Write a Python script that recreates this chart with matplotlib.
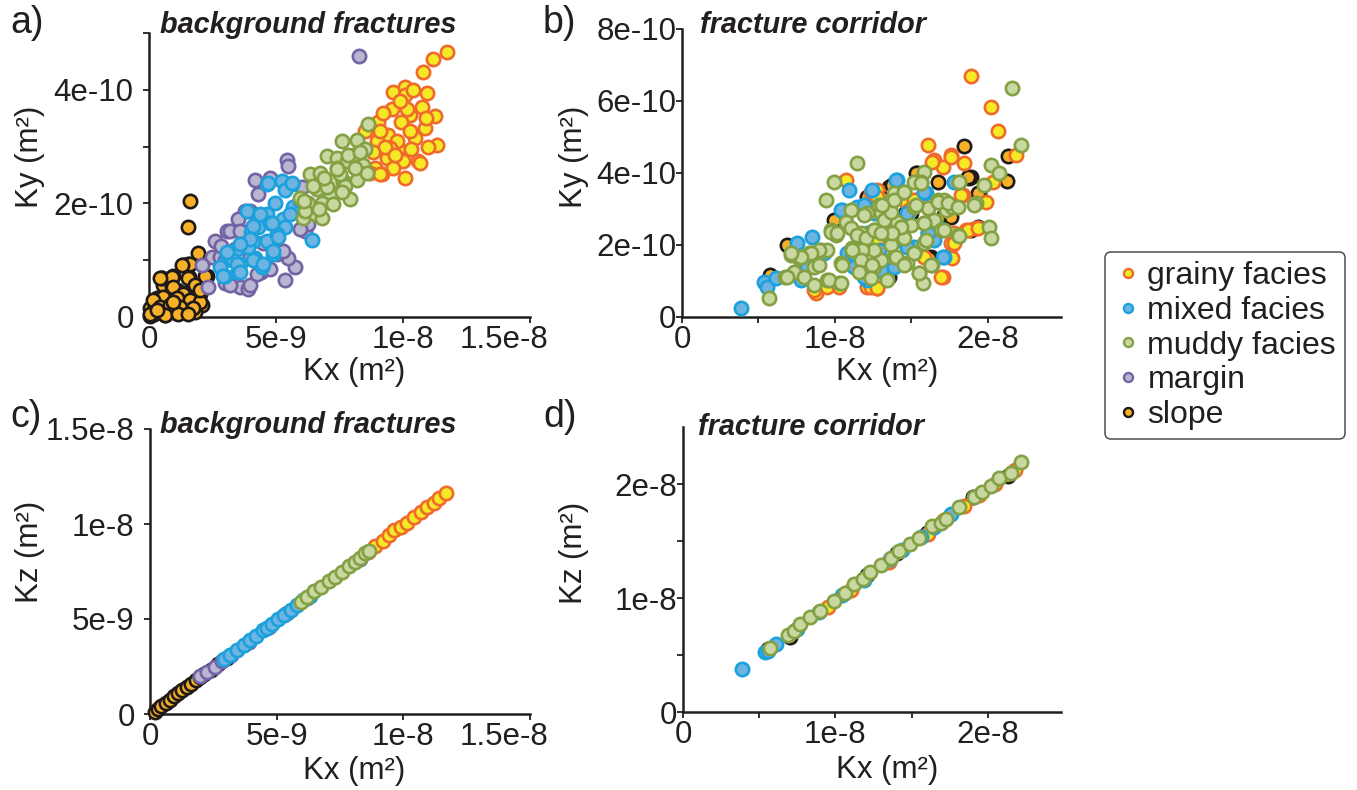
import matplotlib.pyplot as plt
import numpy as np
from matplotlib.lines import Line2D

plt.rcParams['font.family'] = ['Liberation Sans', 'DejaVu Sans']

# --- data (Kx in 1e-9 m2, Ky in 1e-10 m2, Kz in 1e-9 m2) ---
facies = ['grainy facies', 'mixed facies', 'muddy facies', 'margin', 'slope']

# a) background fractures, Ky vs Kx
grainy_a_x = [11.72, 11.19, 10.80, 9.62, 10.08, 10.93, 10.08, 9.55, 10.73, 11.26, 10.28, 9.03, 9.94, 8.50,
              9.42, 10.47, 10.87, 8.96, 9.82, 9.36, 10.01, 10.60, 11.33, 8.90, 9.62, 9.16, 10.08, 8.70,
              10.28, 9.09, 9.75, 9.49, 10.14, 10.67, 9.09, 9.30,
              9.20, 9.90, 10.40, 10.90, 11.00, 9.70, 10.30, 8.80]
grainy_a_y = [4.66, 4.55, 4.31, 3.97, 4.05, 3.94, 3.91, 3.67, 3.70, 3.53, 3.56, 3.44, 3.44, 3.27,
              3.21, 3.15, 3.32, 3.09, 2.95, 2.80, 2.74, 2.74, 3.03, 2.63, 2.63, 2.51, 2.45, 2.54,
              3.27, 3.27, 3.09, 2.97, 3.67, 2.71, 2.51, 3.00,
              3.60, 3.80, 4.00, 3.50, 3.00, 2.85, 2.95, 2.90]
muddy_a_x = [8.63, 7.59, 8.18, 8.50, 6.99, 7.39, 7.78, 8.44, 6.34, 6.73, 7.19, 7.65, 8.18, 6.60, 7.13,
             7.72, 7.91, 5.94, 6.27, 6.80, 7.26, 6.08, 6.54, 6.80, 6.14, 7.39, 8.04, 8.57, 8.11, 7.52, 6.99,
             6.10, 6.45, 6.90, 7.40, 7.85, 8.30, 6.70, 7.60]
muddy_a_y = [3.39, 3.09, 3.12, 2.95, 2.83, 2.80, 2.74, 2.68, 2.51, 2.54, 2.39, 2.39, 2.42, 2.25, 2.16,
             2.31, 2.07, 2.10, 2.01, 2.01, 1.99, 1.75, 1.81, 1.75, 1.87, 2.63, 2.86, 2.54, 2.63, 2.51, 2.28,
             2.05, 2.30, 2.45, 2.60, 2.85, 2.90, 1.90, 2.20]
mixed_a_x = [4.63, 5.22, 5.62, 5.35, 4.96, 3.85, 4.63, 5.29, 4.30, 4.76, 4.00, 5.35, 4.63, 3.45, 3.06,
             3.58, 2.99, 3.52, 4.44, 4.17, 6.40, 5.68, 5.94, 5.03, 4.11, 3.32, 2.80, 3.91, 4.89, 5.55,
             4.70, 5.62, 4.37, 4.83, 4.11, 3.98, 3.58, 3.45, 2.93, 3.58, 4.11, 4.50, 4.89, 5.09, 3.06]
mixed_a_y = [2.35, 2.39, 2.35, 2.23, 2.01, 1.86, 1.81, 1.72, 1.58, 1.66, 1.49, 1.58, 1.34, 1.20, 1.11,
             0.94, 0.73, 0.79, 0.88, 1.03, 1.36, 1.93, 2.04, 1.46, 1.34, 1.00, 0.88, 1.23, 1.11, 1.81,
             2.36, 2.36, 1.81, 1.66, 1.61, 1.37, 1.29, 0.94, 0.73, 0.79, 1.00, 0.94, 1.17, 1.40, 1.14]
margin_a_x = [5.42, 5.49, 4.17, 4.76, 4.30, 3.78, 3.52, 3.06, 2.60, 2.47, 2.07, 2.33, 2.99, 3.58, 3.91,
              5.35, 5.75, 5.49, 5.22, 6.14, 6.27, 6.40, 8.28, 3.19, 3.98, 2.80, 6.01, 5.03, 4.50, 4.00,
              5.80, 2.85, 4.40, 3.40, 3.19, 3.98, 5.29, 5.94, 3.98, 3.58, 2.99, 4.76, 4.24]
margin_a_y = [2.77, 2.66, 2.41, 2.45, 2.16, 1.87, 1.72, 1.52, 1.34, 1.05, 0.91, 0.53, 0.59, 0.53, 0.50,
              0.65, 0.88, 1.03, 1.17, 1.52, 1.64, 1.87, 4.59, 1.52, 1.05, 1.05, 2.28, 1.11, 1.30, 1.55,
              1.95, 1.25, 0.80, 1.20, 0.56, 0.56, 1.17, 1.55, 1.87, 1.52, 1.00, 0.85, 0.76]
slope_a_x = [1.61, 1.52, 1.93, 1.33, 1.57, 0.46, 0.93, 2.27, 0.55, 0.91, 1.81, 1.22, 2.00, 0.30, 0.75,
             1.09, 0.04, 0.43, 0.94, 1.48, 2.00, 0.11, 0.05, 2.10, 0.63, 1.29, 1.74, 0.24, 1.09, 1.55,
             0.50, 0.89, 1.88, 1.42, 1.94, 0.63, 1.15, 0.24, 1.81, 0.20, 0.35,
             1.61, 1.29, 2.20, 0.43, 1.55, 0.96, 1.81, 1.35, 0.56, 0.17, 1.09, 1.61, 2.01, 0.43, 0.83,
             1.22, 1.74, 0.04, 0.63, 1.15, 1.55, 0.30, 0.96, 2.01]
slope_a_y = [2.04, 1.58, 1.12, 0.91, 0.70, 0.68, 0.72, 0.73, 0.56, 0.53, 0.52, 0.38, 0.41, 0.33, 0.30,
             0.24, 0.15, 0.12, 0.09, 0.12, 0.23, 0.07, 0.02, 0.21, 0.03, 0.15, 0.35, 0.21, 0.47, 0.94,
             0.68, 0.70, 0.53, 0.42, 0.27, 0.24, 0.24, 0.07, 0.09, 0.05, 0.10,
             0.94, 0.91, 0.73, 0.68, 0.68, 0.53, 0.56, 0.41, 0.35, 0.30, 0.33, 0.30, 0.27, 0.18, 0.21,
             0.18, 0.15, 0.06, 0.03, 0.06, 0.06, 0.12, 0.27, 0.47]

# b) fracture corridor, Ky vs Kx
grainy_b_x = [18.91, 20.22, 20.66, 16.07, 17.60, 16.50, 17.05, 18.47, 21.86, 20.33, 18.36, 19.89, 18.58,
              19.23, 17.70, 17.70, 17.05, 10.71, 12.79, 15.30, 8.74, 9.51, 10.27, 12.13, 12.79, 15.84,
              17.81, 12.79, 14.75, 17.60,
              12.35, 16.39, 17.60, 18.25, 17.81, 16.94, 18.69, 19.34, 8.63, 12.35, 12.79, 13.11, 14.86,
              15.19, 12.79]
grainy_b_y = [6.69, 5.84, 5.18, 4.78, 4.50, 4.36, 4.18, 4.27, 4.50, 3.76, 3.39, 3.20, 2.42,
              2.46, 2.00, 1.63, 1.12, 3.81, 3.53, 3.25, 0.66, 0.84, 0.84, 0.84, 0.80, 1.68,
              2.32, 2.14, 3.16, 2.05,
              3.48, 4.31, 4.45, 3.39, 2.05, 1.12, 2.42, 2.46, 0.75, 0.84, 0.80, 1.58, 2.97,
              3.25, 3.34]
muddy_b_x = [21.57, 22.18, 20.22, 20.76, 19.78, 19.23, 20.11, 20.22, 18.14, 18.03, 15.84, 15.63, 14.53,
             13.66, 12.89, 15.19, 16.07, 16.72, 17.27, 16.50, 15.84, 14.97, 14.10, 13.22, 12.57, 13.66,
             14.53, 15.19, 15.84, 16.39, 15.52, 15.74, 13.44, 12.57, 11.91, 11.48, 9.94, 9.40, 11.04,
             10.71, 9.72, 10.05, 9.07, 8.30, 7.10, 7.65, 6.77, 7.32, 7.97, 8.63, 9.51, 10.27, 5.68,
             11.15, 11.80, 12.24, 13.00, 13.88, 14.75, 16.94, 17.15, 17.70, 13.88, 13.00, 12.13, 11.69,
             8.63, 10.38, 11.04,
             11.91, 9.72, 10.16, 11.48, 12.02, 12.57, 13.22, 13.66, 13.88, 13.11, 14.53, 15.19, 15.63,
             15.30, 16.72, 17.38, 18.03, 18.14, 19.12, 17.15, 15.84, 14.31, 13.77, 13.00, 12.57, 11.80,
             11.15, 9.51, 8.96, 8.41, 7.76, 7.10, 6.89, 9.61, 10.38, 8.96, 10.49, 11.69, 12.46, 11.58,
             12.35, 13.99, 14.53, 15.19, 15.95, 15.52, 16.28, 18.14]
muddy_b_y = [6.36, 4.78, 4.22, 3.99, 3.67, 3.16, 2.51, 2.19, 3.76, 2.28, 4.04, 3.76, 3.48,
             3.25, 3.11, 3.06, 3.02, 3.25, 2.97, 2.69, 2.60, 2.56, 2.65, 2.69, 2.42, 2.00,
             2.19, 1.77, 2.05, 1.44, 1.21, 0.94, 1.03, 1.40, 1.81, 4.27, 3.76, 3.25, 2.97,
             2.65, 2.42, 2.28, 1.86, 1.77, 1.72, 1.63, 1.12, 1.26, 1.12, 0.89, 1.03, 0.94, 0.54,
             1.91, 2.23, 1.68, 1.58, 1.68, 1.49, 2.42, 3.25, 3.06, 3.44, 2.88, 2.88, 2.32,
             1.40, 1.49, 2.46,
             2.83, 2.37, 2.32, 2.28, 2.19, 2.42, 2.69, 2.93, 3.25, 3.11, 3.48, 3.76, 3.71,
             3.11, 3.20, 3.16, 3.06, 3.76, 3.11, 2.42, 2.60, 2.51, 2.32, 2.32, 1.86, 1.86,
             1.86, 1.86, 1.86, 1.77, 1.68, 1.77, 1.12, 1.03, 0.94, 1.44, 1.44, 1.58, 1.44, 1.26,
             1.08, 1.68, 1.44, 1.77, 2.14, 1.21, 1.44, 2.25]
mixed_b_x = [3.89, 5.35, 5.57, 6.12, 7.54, 8.52, 8.20, 10.49, 10.93, 14.10, 15.95, 17.15, 17.81, 11.48,
             12.57, 12.13, 10.82, 11.25, 12.13, 13.66, 14.31, 15.19, 16.07, 16.50, 14.75, 13.44, 9.94,
             9.29, 13.88, 16.72,
             13.99, 10.38, 11.91, 11.69, 12.89, 14.10, 14.75, 17.05, 15.84, 11.91, 13.00, 11.15, 7.76,
             16.07, 12.46]
mixed_b_y = [0.24, 0.98, 0.84, 1.08, 2.05, 2.23, 1.40, 2.97, 3.53, 3.81, 3.44, 1.68, 3.76, 3.06,
             2.88, 2.32, 1.77, 1.40, 1.03, 1.58, 2.32, 1.95, 2.32, 2.14, 2.88, 2.32, 2.32,
             1.77, 1.40, 2.51,
             3.81, 2.97, 3.11, 2.00, 1.86, 2.14, 1.95, 1.68, 3.48, 1.12, 1.31, 1.77, 1.03,
             2.32, 3.53]
margin_b_x = []
margin_b_y = []
slope_b_x = [18.43, 21.35, 21.27, 18.91, 19.45, 16.72, 15.41, 13.66, 9.94, 6.89, 5.79, 13.44, 16.28,
             18.91, 12.13, 17.60, 18.79, 19.34, 16.17, 14.97, 13.55, 15.30,
             13.77, 18.69, 13.55, 17.15, 14.64, 17.60, 19.34]
slope_b_y = [4.76, 4.47, 3.79, 3.90, 3.44, 3.76, 3.99, 3.62, 2.69, 2.00, 1.17, 1.12, 1.68,
             2.42, 3.34, 2.97, 3.85, 3.44, 1.63, 2.88, 3.62, 3.99,
             3.67, 3.90, 1.12, 2.83, 2.93, 2.79, 2.51]

# c) background fractures, Kz vs Kx
grainy_c_x = [8.62, 8.90, 9.18, 9.45, 9.62, 9.90, 10.15, 10.42, 10.70, 10.95, 11.20, 11.42, 11.70]
grainy_c_y = [8.55, 8.82, 9.12, 9.40, 9.70, 9.85, 10.05, 10.38, 10.62, 10.90, 11.12, 11.35, 11.62]
muddy_c_x = [5.95, 6.20, 6.48, 6.75, 7.05, 7.30, 7.58, 7.85, 8.10, 8.30, 8.50, 8.66]
muddy_c_y = [5.92, 6.15, 6.45, 6.70, 7.00, 7.22, 7.50, 7.80, 8.02, 8.22, 8.45, 8.58]
mixed_c_x = [2.92, 3.15, 3.42, 3.70, 3.95, 4.20, 4.45, 4.62, 4.80, 5.05, 5.30, 5.55, 5.80, 6.05, 6.30]
mixed_c_y = [2.88, 3.12, 3.35, 3.62, 3.90, 4.12, 4.40, 4.55, 4.75, 5.00, 5.22, 5.50, 5.72, 5.98, 6.20]
margin_c_x = [1.97, 2.25, 2.55, 2.85, 3.20, 3.90, 4.70, 5.40, 6.20, 8.30]
margin_c_y = [2.00, 2.22, 2.48, 2.80, 3.10, 3.80, 4.60, 5.30, 6.10, 8.15]
slope_c_x = [0.18, 0.32, 0.45, 0.62, 0.80, 0.95, 1.12, 1.28, 1.47, 1.63, 1.80, 1.97, 2.15, 2.40, 2.70, 3.05]
slope_c_y = [0.12, 0.28, 0.42, 0.60, 0.76, 0.93, 1.08, 1.27, 1.44, 1.60, 1.78, 1.95, 2.10, 2.33, 2.62, 2.95]

# d) fracture corridor, Kz vs Kx
grainy_d_x = [9.50, 11.00, 13.50, 16.05, 17.10, 18.45, 19.40, 20.50, 21.80]
grainy_d_y = [9.20, 10.70, 13.20, 15.60, 16.85, 18.10, 19.05, 20.00, 21.20]
muddy_d_x = [5.72, 6.86, 7.26, 7.70, 8.36, 9.01, 9.89, 10.60, 11.20, 11.80, 12.30, 13.00, 13.62,
             14.20, 14.90, 15.48, 16.36, 16.90, 17.24, 18.11, 19.10, 19.60, 20.20, 20.74, 21.51, 22.17]
muddy_d_y = [5.62, 6.77, 7.14, 7.73, 8.30, 8.89, 9.77, 10.45, 11.22, 11.70, 12.24, 12.90, 13.55,
             14.10, 14.70, 15.30, 16.33, 16.60, 16.90, 17.95, 18.82, 19.30, 19.82, 20.49, 20.98, 21.94]
mixed_d_x = [3.86, 5.39, 5.55, 6.12, 7.45, 8.95, 10.40, 11.85, 13.55, 14.40, 15.60, 16.45, 17.60]
mixed_d_y = [3.79, 5.24, 5.35, 5.98, 7.30, 8.75, 10.25, 11.60, 13.40, 14.25, 15.35, 16.20, 17.35]
margin_d_x = []
margin_d_y = []
slope_d_x = [5.60, 6.99, 12.10, 14.05, 16.00, 19.00, 21.30]
slope_d_y = [5.50, 6.55, 12.00, 13.95, 15.70, 18.90, 20.70]

# --- styling ---
face = {'grainy facies': '#f5e825', 'mixed facies': '#6db4e2', 'muddy facies': '#c9d7a1',
        'margin': '#b8b6d0', 'slope': '#f6b128'}
edge = {'grainy facies': '#ef6a2b', 'mixed facies': '#1ba1db', 'muddy facies': '#83a143',
        'margin': '#7463a4', 'slope': '#1f1a17'}
draw_order = ['slope', 'grainy facies', 'margin', 'mixed facies', 'muddy facies']
ink = '#231f20'
FS = 22.5

W, H = 1357, 790
fig = plt.figure(figsize=(W / 100, H / 100), dpi=100)


def add_px_axes(l, t, r, b):
    return fig.add_axes([l / W, 1 - b / H, (r - l) / W, (b - t) / H])


def fig_text(x, y, s, **kw):
    fig.text(x / W, 1 - y / H, s, color=ink, **kw)


def draw_panel(ax, groups, xunit, yunit):
    for name in draw_order:
        gx, gy = groups[name]
        if len(gx) == 0:
            continue
        ax.scatter(np.array(gx) * xunit, np.array(gy) * yunit, s=92, c=face[name],
                   edgecolors=edge[name], linewidths=1.9, zorder=3, clip_on=False)
    for side in ['top', 'right']:
        ax.spines[side].set_visible(False)
    for side in ['left', 'bottom']:
        ax.spines[side].set_linewidth(1.8)
        ax.spines[side].set_color(ink)
    ax.tick_params(direction='out', length=4, width=1.3, colors=ink, labelsize=FS)
    ax.tick_params(axis='x', pad=2)


ax_a = add_px_axes(149, 33, 530, 317)
ax_b = add_px_axes(682, 29, 1061, 317)
ax_c = add_px_axes(150, 429, 530, 714)
ax_d = add_px_axes(683, 427, 1061, 712)

draw_panel(ax_a, {'grainy facies': (grainy_a_x, grainy_a_y), 'mixed facies': (mixed_a_x, mixed_a_y),
                  'muddy facies': (muddy_a_x, muddy_a_y), 'margin': (margin_a_x, margin_a_y),
                  'slope': (slope_a_x, slope_a_y)}, 1e-9, 1e-10)
draw_panel(ax_b, {'grainy facies': (grainy_b_x, grainy_b_y), 'mixed facies': (mixed_b_x, mixed_b_y),
                  'muddy facies': (muddy_b_x, muddy_b_y), 'margin': (margin_b_x, margin_b_y),
                  'slope': (slope_b_x, slope_b_y)}, 1e-9, 1e-10)
draw_panel(ax_c, {'grainy facies': (grainy_c_x, grainy_c_y), 'mixed facies': (mixed_c_x, mixed_c_y),
                  'muddy facies': (muddy_c_x, muddy_c_y), 'margin': (margin_c_x, margin_c_y),
                  'slope': (slope_c_x, slope_c_y)}, 1e-9, 1e-9)
draw_panel(ax_d, {'grainy facies': (grainy_d_x, grainy_d_y), 'mixed facies': (mixed_d_x, mixed_d_y),
                  'muddy facies': (muddy_d_x, muddy_d_y), 'margin': (margin_d_x, margin_d_y),
                  'slope': (slope_d_x, slope_d_y)}, 1e-9, 1e-9)

# limits and ticks
bg_xticks = [0, 5e-9, 1e-8, 1.5e-8]
bg_xlabels = ['0', '5e-9', '1e-8', '']
fc_xticks = [0, 5e-9, 1e-8, 1.5e-8, 2e-8]
fc_xlabels = ['0', '', '1e-8', '', '2e-8']

for ax in (ax_a, ax_c):
    ax.set_xlim(0, 1.5e-8)
    ax.set_xticks(bg_xticks, bg_xlabels)
    # end label sits a little left of its tick in the original
    ax.annotate('1.5e-8', xy=(1.5e-8, 0), xycoords=('data', 'axes fraction'),
                xytext=(-19, -6), textcoords='offset points', ha='center', va='top',
                fontsize=FS, color=ink)
for ax in (ax_b, ax_d):
    ax.set_xlim(0, 2.48e-8)
    ax.set_xticks(fc_xticks, fc_xlabels)

ax_a.set_ylim(0, 5e-10)
ax_a.set_yticks([0, 1e-10, 2e-10, 3e-10, 4e-10, 5e-10], ['0', '', '2e-10', '', '4e-10', ''])
ax_a.tick_params(axis='y', pad=7)
ax_b.set_ylim(0, 8e-10)
ax_b.set_yticks([0, 2e-10, 4e-10, 6e-10, 8e-10], ['0', '2e-10', '4e-10', '6e-10', '8e-10'])
ax_b.tick_params(axis='y', pad=0)
ax_c.set_ylim(0, 1.5e-8)
ax_c.set_yticks([0, 5e-9, 1e-8, 1.5e-8], ['0', '5e-9', '1e-8', '1.5e-8'])
ax_c.tick_params(axis='y', pad=7)
ax_d.set_ylim(0, 2.5e-8)
ax_d.set_yticks([0, 5e-9, 1e-8, 1.5e-8, 2e-8], ['0', '', '1e-8', '', '2e-8'])
ax_d.tick_params(axis='y', pad=0)

# panel letters and titles
for x, y, s in [(10, 33, 'a)'), (543, 33, 'b)'), (10, 427, 'c)'), (543, 427, 'd)')]:
    fig_text(x, y, s, fontsize=27, ha='left', va='baseline')
for x, y, s in [(160, 33, 'background fractures'), (700, 33, 'fracture corridor'),
                (160, 433, 'background fractures'), (698, 435, 'fracture corridor')]:
    fig_text(x, y, s, fontsize=20.8, fontweight='bold', fontstyle='italic', ha='left', va='baseline')

# axis labels
for x, y, s in [(30, 157, 'Ky (m²)'), (574, 157, 'Ky (m²)'), (30, 552, 'Kz (m²)'), (574, 553, 'Kz (m²)')]:
    fig_text(x, y, s, fontsize=FS, rotation=90, ha='center', va='center')
for x, y, s in [(354, 372, 'Kx (m²)'), (887, 372, 'Kx (m²)'), (354, 771, 'Kx (m²)'), (887, 770, 'Kx (m²)')]:
    fig_text(x, y, s, fontsize=FS, ha='center', va='center')

# legend
handles = [Line2D([], [], linestyle='none', marker='o', markersize=6.5, markerfacecolor=face[n],
                  markeredgecolor=edge[n], markeredgewidth=1.7, label=n) for n in facies]
leg = fig.legend(handles=handles, loc='upper left', bbox_to_anchor=(1105 / W, 1 - 252 / H),
                 bbox_transform=fig.transFigure, borderaxespad=0, fontsize=23, frameon=True,
                 fancybox=True, borderpad=0.28, handlelength=0.85, handletextpad=0.2,
                 labelspacing=0.15)
leg.get_frame().set_edgecolor(ink)
leg.get_frame().set_linewidth(1.1)
for t in leg.get_texts():
    t.set_color(ink)

fig.savefig('out.png', dpi=100)
